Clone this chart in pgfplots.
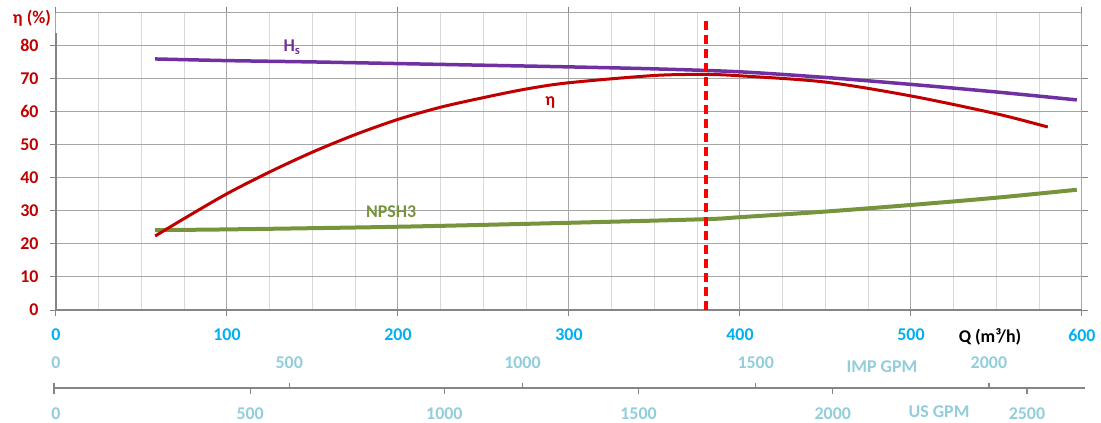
\documentclass[border=0pt]{standalone}
\usepackage{pgfplots}
\pgfplotsset{compat=1.18}
\usepackage{fontspec}
\setmainfont{Carlito}
\definecolor{cred}{HTML}{C00000}
\definecolor{cpur}{HTML}{7030A0}
\definecolor{cgrn}{HTML}{77933C}
\definecolor{cblue}{HTML}{00B0F0}
\definecolor{clblue}{HTML}{92CDDC}
\definecolor{gmaj}{HTML}{A6A6A6}
\definecolor{gmin}{HTML}{D9D9D9}
\newcommand{\lf}{\fontsize{18}{20}\selectfont\bfseries}
\begin{document}
\begin{tikzpicture}
\useasboundingbox (-56bp,-113bp) rectangle (1045bp,310bp);
\begin{axis}[
  at={(0,0)}, anchor=south west,
  scale only axis, width=1026bp, height=297.3bp,
  xmin=0, xmax=600, ymin=0, ymax=90,
  axis line style={draw=none},
  clip=false,
  xtick={0,100,...,600},
  xticklabels={0,100,200,300,400,500,600},
  minor xtick={25,50,75,125,150,175,225,250,275,325,350,375,425,450,475,525,550,575},
  ytick={0,10,...,80},
  yticklabels={0,10,20,30,40,50,60,70,80},
  grid=both,
  major grid style={gmaj, line width=1bp},
  minor grid style={gmin, line width=1bp},
  tick align=outside,
  major tick length=6bp,
  minor tick length=0pt,
  tick style={gmaj!80!black, line width=1bp},
  xticklabel style={font=\lf, text=cblue, anchor=center, yshift=-19bp},
  yticklabel style={font=\lf, text=cred, anchor=east, xshift=-8bp},
]
\draw[gmaj, line width=1bp] (axis cs:0,90) -- (axis cs:600,90);
\draw[gmaj!80!black, line width=1.2bp] (axis cs:0,0) -- (axis cs:600,0);
\draw[gmaj!80!black, line width=1.2bp] (axis cs:0,0) -- (axis cs:0,84);

\addplot[cpur, line width=3.5bp, smooth] coordinates {
(58,76.0) (100,75.5) (150,75.1) (200,74.6) (250,74.1) (300,73.6) (350,73.0) (400,72.1) (450,70.4) (500,68.3) (550,66.0) (597,63.6)};
\addplot[cgrn, line width=4bp, smooth] coordinates {
(58,24.2) (100,24.4) (200,25.2) (300,26.4) (380,27.5) (400,28.1) (450,29.8) (500,31.8) (550,34.0) (597,36.4)};
\addplot[cred, line width=3bp, smooth, tension=0.5] coordinates {
(58,22.4) (75,27.7) (100,35.2) (125,41.8) (150,47.8) (175,53.1) (200,57.7) (225,61.4) (250,64.3) (275,66.9) (300,68.8) (350,71.0) (380,71.3) (400,70.9) (450,69.0) (500,64.8) (550,59.4) (580,55.4)};
\addplot[red, line width=3.5bp, dash pattern=on 9bp off 5bp] coordinates {(380,0) (380,89)};

\node[text=cpur, font=\lf] at (axis cs:138,79.5) {H\textsubscript{s}};
\node[text=cred, font=\lf] at (axis cs:289,62.8) {η};
\node[text=cgrn, font=\lf] at (axis cs:196,29.9) {NPSH3};
\end{axis}
% labels
\node[text=cred, font=\lf] at (-24bp,292bp) {η (\%)};
\node[text=black, font=\lf] at (934bp,-27bp) {Q (m³/h)};
% GPM axis
\draw[gmaj!80!black, line width=1.2bp] (-2bp,-78bp) -- (1029bp,-78bp);
\draw[gmaj!80!black, line width=1.2bp] (-2bp,-73bp) -- (-2bp,-84bp);
\foreach \g in {500,1000,1500,2000} {
  \draw[gmaj!80!black, line width=1.2bp] ({\g/3.666*1.71bp},-78bp) -- ({\g/3.666*1.71bp},-73bp);
}
\foreach \g in {500,1000,1500,2000,2500} {
  \draw[gmaj!80!black, line width=1.2bp] ({\g/4.403*1.71bp},-78bp) -- ({\g/4.403*1.71bp},-84bp);
}
\foreach \g in {0,500,1000,1500,2000} {
  \node[text=clblue, font=\lf] at ({\g/3.666*1.71bp},-53bp) {\g};
}
\foreach \g in {0,500,1000,1500,2000,2500} {
  \node[text=clblue, font=\lf] at ({\g/4.403*1.71bp},-104bp) {\g};
}
\node[text=clblue, font=\lf] at (826bp,-57bp) {IMP GPM};
\node[text=clblue, font=\lf] at (883bp,-102bp) {US GPM};
\end{tikzpicture}
\end{document}
